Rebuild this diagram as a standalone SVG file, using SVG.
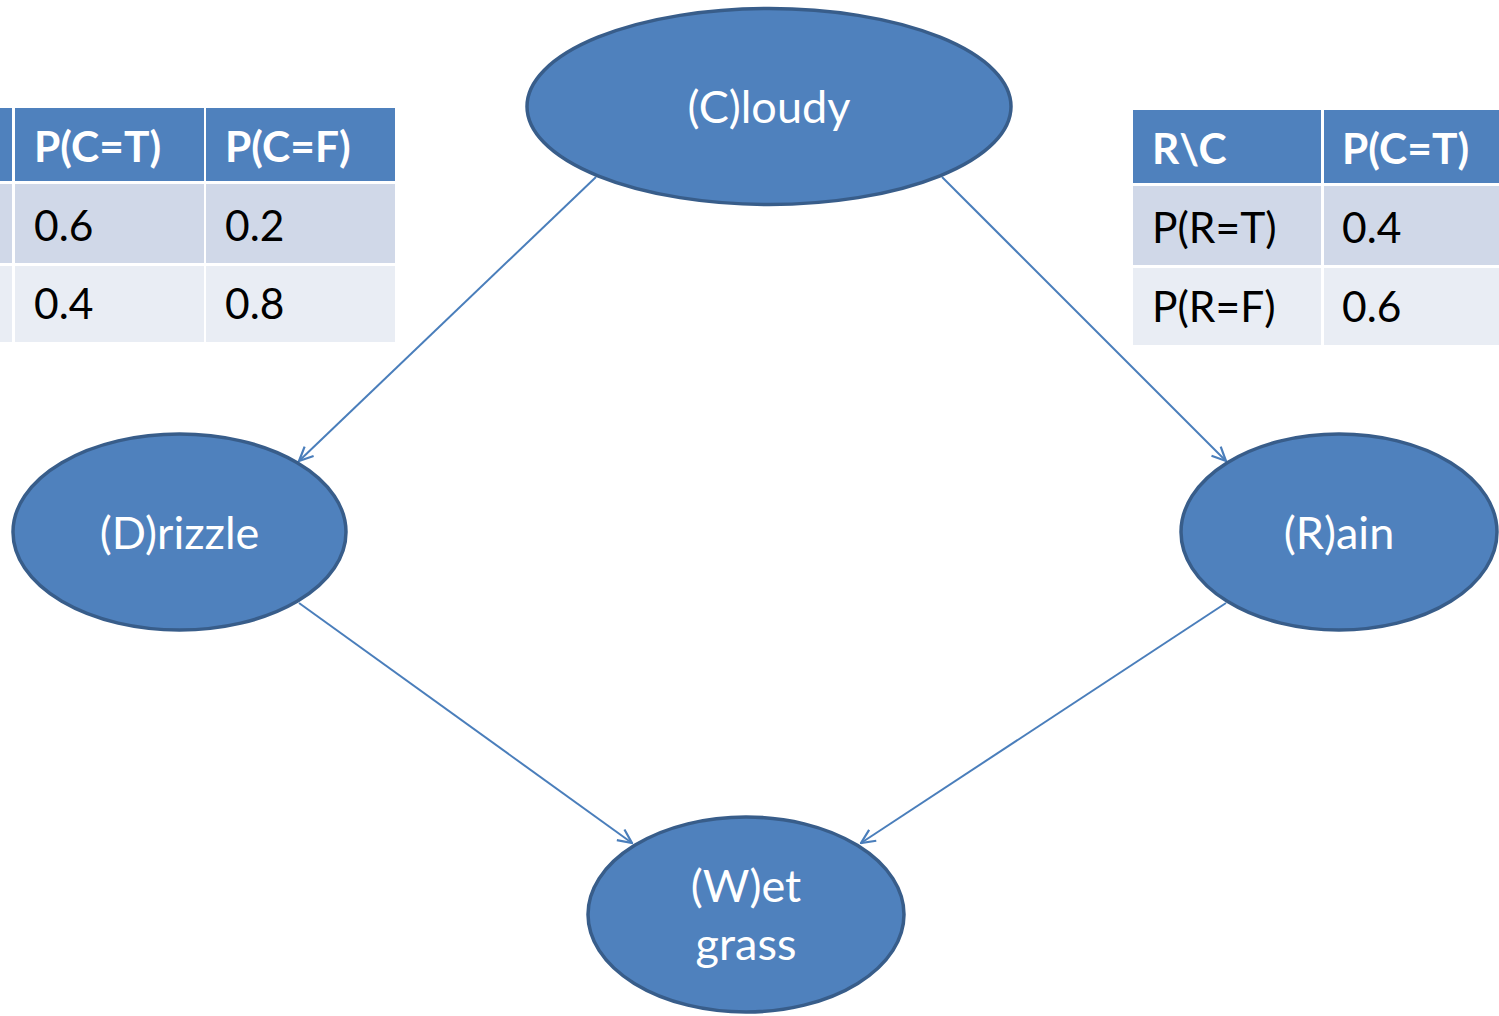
<svg xmlns="http://www.w3.org/2000/svg" width="1499" height="1016" viewBox="0 0 1499 1016">
<defs>
<style>
.node{fill:#4f81bd;stroke:#385d8a;stroke-width:3.5}
.lbl{font-family:Lato,"Open Sans","Liberation Sans",sans-serif;font-size:45px;fill:#ffffff;text-anchor:middle}
.hd{fill:#4f81bd}
.r1{fill:#d0d8e8}
.r2{fill:#e9edf4}
.th{font-family:Lato,"Open Sans","Liberation Sans",sans-serif;font-size:42.5px;font-weight:bold;fill:#ffffff}
.td{font-family:Lato,"Open Sans","Liberation Sans",sans-serif;font-size:42.5px;fill:#000000}
.edge{stroke:#4a7ebb;stroke-width:2;fill:none;marker-end:url(#arr)}
</style>
<marker id="arr" viewBox="0 0 16 16" refX="15" refY="8" markerWidth="16" markerHeight="16" markerUnits="userSpaceOnUse" orient="auto">
<path d="M1,1.5 L15,8 L1,14.5" fill="none" stroke="#4a7ebb" stroke-width="2.2"/>
</marker>
</defs>
<rect width="1499" height="1016" fill="#ffffff"/>

<g id="table-left">
<rect class="hd" x="0" y="108" width="12" height="73"/>
<rect class="hd" x="15" y="108" width="189" height="73"/>
<rect class="hd" x="206" y="108" width="189" height="73"/>
<rect class="r1" x="0" y="184" width="12" height="79"/>
<rect class="r1" x="15" y="184" width="189" height="79"/>
<rect class="r1" x="206" y="184" width="189" height="79"/>
<rect class="r2" x="0" y="266" width="12" height="76"/>
<rect class="r2" x="15" y="266" width="189" height="76"/>
<rect class="r2" x="206" y="266" width="189" height="76"/>
<text class="th" x="34" y="162">P(C=T)</text>
<text class="th" x="225" y="162">P(C=F)</text>
<text class="td" x="34" y="241">0.6</text>
<text class="td" x="225" y="241">0.2</text>
<text class="td" x="34" y="319">0.4</text>
<text class="td" x="225" y="319">0.8</text>
</g>

<g id="table-right">
<rect class="hd" x="1133" y="110" width="188" height="73"/>
<rect class="hd" x="1324" y="110" width="175" height="73"/>
<rect class="r1" x="1133" y="186" width="188" height="79"/>
<rect class="r1" x="1324" y="186" width="175" height="79"/>
<rect class="r2" x="1133" y="268" width="188" height="77"/>
<rect class="r2" x="1324" y="268" width="175" height="77"/>
<text class="th" x="1152" y="164">R\C</text>
<text class="th" x="1342" y="164">P(C=T)</text>
<text class="td" x="1152" y="243">P(R=T)</text>
<text class="td" x="1342" y="243">0.4</text>
<text class="td" x="1152" y="322">P(R=F)</text>
<text class="td" x="1342" y="322">0.6</text>
</g>

<g id="connectors">
<line class="edge" x1="596" y1="177" x2="299" y2="461"/>
<line class="edge" x1="942" y1="177" x2="1226" y2="461"/>
<line class="edge" x1="299" y1="603" x2="632" y2="843"/>
<line class="edge" x1="1226" y1="603" x2="861" y2="843"/>
</g>

<g id="node-cloudy">
<ellipse class="node" cx="769" cy="106.5" rx="242" ry="98"/>
<text class="lbl" x="769" y="123">(C)loudy</text>
</g>
<g id="node-drizzle">
<ellipse class="node" cx="179.5" cy="532" rx="166.5" ry="98"/>
<text class="lbl" x="179.5" y="549">(D)rizzle</text>
</g>
<g id="node-rain">
<ellipse class="node" cx="1339" cy="532" rx="158" ry="98"/>
<text class="lbl" x="1339" y="549">(R)ain</text>
</g>
<g id="node-wetgrass">
<ellipse class="node" cx="746" cy="914.5" rx="158" ry="97.5"/>
<text class="lbl" x="746" y="902">(W)et</text>
<text class="lbl" x="746" y="960">grass</text>
</g>
</svg>
